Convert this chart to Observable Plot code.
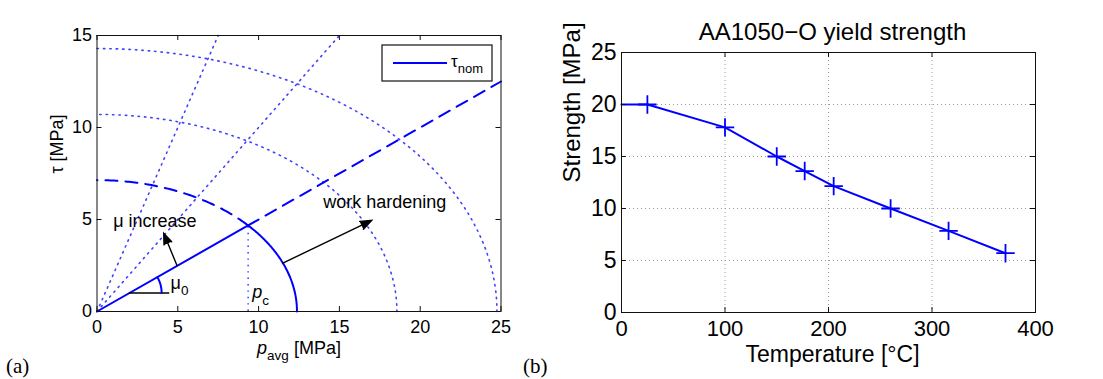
<!DOCTYPE html>
<html>
<head>
<meta charset="utf-8">
<script src="https://cdn.jsdelivr.net/npm/d3@7"></script>
<script src="https://cdn.jsdelivr.net/npm/@observablehq/plot@0.6"></script>
<style>
  body { margin: 0; background: #fff; }
  #wrap { position: relative; width: 1103px; height: 379px; overflow: hidden; background: #fff; }
  #left { position: absolute; left: 0; top: 0; }
  #right { position: absolute; left: 520px; top: 0; }
</style>
</head>
<body>
<div id="wrap"><div id="left"></div><div id="right"></div></div>
<script>
// ================= Panel (a): friction / yield model =================
const pAvgTicks = [0, 5, 10, 15, 20, 25];
const tauTicks = [0, 5, 10, 15];
// yield ellipses: intercept on the p axis and on the tau axis (initial p_c, then work-hardened)
const yieldP = [12.375, 18.56, 24.75];
const yieldTau = [7.14, 10.71, 14.29];
// friction slopes: mu0 (solid/dashed) and increased mu (dotted)
const mu0 = 0.5;
const muDotted = [1, 2];
// annotation arrows (data coordinates)
const arrowP1 = [4.95, 11.5];
const arrowTau1 = [2.5, 2.63];
const arrowP2 = [4.13, 17.0];
const arrowTau2 = [4.25, 4.95];
// annotation labels
const labelText = ["μ increase", "work hardening", "mu0", "pc"];
const labelP = [1.0, 14.0, 4.55, 9.6];
const labelTau = [4.9, 5.94, 1.55, 1.03];
// mu0 angle marker: centre on the line and horizontal end
const angleCentre = [2.0, 1.0];
const angleEndP = [4.5];
const angleRadius = [2.0, 1.75];

// ================= Panel (b): AA1050-O yield strength =================
const temperatureC = [0, 25, 100, 150, 177, 205, 260, 316, 371];
const strengthMPa = [20, 20, 17.8, 15.0, 13.6, 12.15, 10.0, 7.85, 5.7];
const markerFrom = 1; // first point (axis) drawn without marker
const tempTicks = [0, 100, 200, 300, 400];
const strengthTicks = [0, 5, 10, 15, 20, 25];

const BLUE = "#0000ff";
const FONT = '"Liberation Sans", Arial, Helvetica, sans-serif';
const SERIF = '"Liberation Serif", "Times New Roman", serif';

function arc(cx, cy, rx, ry, t0, t1, n = 90) {
  return d3.range(n + 1).map(i => {
    const t = t0 + (t1 - t0) * i / n;
    return {p: cx + rx * Math.cos(t), tau: cy + ry * Math.sin(t)};
  });
}

// derived geometry
const a0 = yieldP[0], b0 = yieldTau[0];
const thetaInt = Math.atan2(mu0 * a0, b0);
const pInt = a0 * Math.cos(thetaInt), tauInt = b0 * Math.sin(thetaInt);
const solidArc = arc(0, 0, a0, b0, 0, thetaInt);
const dashedArc = arc(0, 0, a0, b0, thetaInt, Math.PI / 2);
const dottedEllipses = yieldP.slice(1).flatMap((a, k) =>
  arc(0, 0, a, yieldTau[k + 1], 0, Math.PI / 2).map(d => ({...d, k})));
const xMax = 25, yMax = 15;
const dottedRadials = muDotted.flatMap(s => [
  {p: 0, tau: 0, s}, {p: Math.min(xMax, yMax / s), tau: Math.min(xMax, yMax / s) * s, s}
]);
const solidRadial = [{p: 0, tau: 0}, {p: pInt, tau: tauInt}];
const dashedRadial = [{p: pInt, tau: tauInt}, {p: xMax, tau: xMax * mu0}];
const angleT = Math.atan(mu0 * angleRadius[0] / angleRadius[1]);
const angleArc = arc(angleCentre[0], angleCentre[1], angleRadius[0], angleRadius[1], 0, angleT, 30);
const arrows = arrowP1.map((_, i) => ({x1: arrowP1[i], y1: arrowTau1[i], x2: arrowP2[i], y2: arrowTau2[i]}));
const labels = labelText.map((t, i) => ({t, p: labelP[i], tau: labelTau[i]}));

const LW = 520, LH = 379, LML = 96.5, LMR = 19.5, LMT = 35, LMB = 68;
const lInnerH = LH - LMT - LMB;
const dotted = {stroke: BLUE, strokeWidth: 1.6, strokeDasharray: "1.4,5", strokeOpacity: 0.75};

const leftPlot = Plot.plot({
  width: LW, height: LH,
  marginLeft: LML, marginRight: LMR, marginTop: LMT, marginBottom: LMB,
  x: {domain: [0, 25]},
  y: {domain: [0, 15]},
  style: {fontFamily: FONT, fontSize: "18px", color: "#000", background: "transparent"},
  marks: [
    Plot.line(dottedRadials, {x: "p", y: "tau", z: "s", ...dotted}),
    Plot.line(dottedEllipses, {x: "p", y: "tau", z: "k", ...dotted}),
    Plot.ruleX([pInt], {y1: 0, y2: tauInt, ...dotted}),
    Plot.line(dashedArc, {x: "p", y: "tau", stroke: BLUE, strokeWidth: 2, strokeDasharray: "12,8"}),
    Plot.line(dashedRadial, {x: "p", y: "tau", stroke: BLUE, strokeWidth: 2, strokeDasharray: "12,8"}),
    Plot.line(solidRadial, {x: "p", y: "tau", stroke: BLUE, strokeWidth: 2}),
    Plot.line(solidArc, {x: "p", y: "tau", stroke: BLUE, strokeWidth: 2}),
    Plot.ruleY([angleCentre[1]], {x1: angleCentre[0], x2: angleEndP[0], stroke: "#000", strokeWidth: 1.5}),
    Plot.line(angleArc, {x: "p", y: "tau", stroke: BLUE, strokeWidth: 2}),
    Plot.arrow(arrows, {x1: "x1", y1: "y1", x2: "x2", y2: "y2", stroke: "#000", fill: "#000",
      strokeWidth: 1.4, headLength: 13, headAngle: 42, strokeLinejoin: "miter", strokeMiterlimit: 10}),
    Plot.text(labels, {x: "p", y: "tau", text: "t", textAnchor: "start", fontSize: 18, fill: "#000"}),
    Plot.frame({stroke: "#111", strokeWidth: 1}),
    Plot.tickX(pAvgTicks, {x: d => d, insetTop: lInnerH - 5, stroke: "#111"}),
    Plot.tickX(pAvgTicks, {x: d => d, insetBottom: lInnerH - 5, stroke: "#111"}),
    Plot.tickY(tauTicks, {y: d => d, insetRight: (LW - LML - LMR) - 5, stroke: "#111"}),
    Plot.tickY(tauTicks, {y: d => d, insetLeft: (LW - LML - LMR) - 5, stroke: "#111"}),
    Plot.axisX({ticks: pAvgTicks, tickSize: 0, tickPadding: 9, label: null, fontSize: 18}),
    Plot.axisY({ticks: tauTicks, tickSize: 0, tickPadding: 5, label: null, fontSize: 18}),
    Plot.text(["p_avg [MPa]"], {frameAnchor: "bottom", dy: 42, text: d => d, fontSize: 18}),
    Plot.text(["τ [MPa]"], {frameAnchor: "left", dx: -40, rotate: -90, text: d => d, fontSize: 18})
  ]
});

const RW = 583, RH = 379, RML = 101, RMR = 68, RMT = 52, RMB = 67;
const rInnerH = RH - RMT - RMB, rInnerW = RW - RML - RMR;
const series = temperatureC.map((t, i) => ({t, s: strengthMPa[i]}));

const rightPlot = Plot.plot({
  width: RW, height: RH,
  marginLeft: RML, marginRight: RMR, marginTop: RMT, marginBottom: RMB,
  x: {domain: [0, 400]},
  y: {domain: [0, 25]},
  style: {fontFamily: FONT, fontSize: "23px", color: "#000", background: "transparent"},
  marks: [
    Plot.ruleX(tempTicks.slice(1, -1), {x: d => d, stroke: "#999", strokeWidth: 1, strokeDasharray: "1,3"}),
    Plot.ruleY(strengthTicks.slice(1, -1), {y: d => d, stroke: "#999", strokeWidth: 1, strokeDasharray: "1,3"}),
    Plot.line(series, {x: "t", y: "s", stroke: BLUE, strokeWidth: 2}),
    Plot.dot(series.slice(markerFrom), {x: "t", y: "s", symbol: "plus", r: 6, stroke: BLUE, strokeWidth: 1.8}),
    Plot.frame({stroke: "#111", strokeWidth: 1}),
    Plot.tickX(tempTicks, {x: d => d, insetTop: rInnerH - 5, stroke: "#111"}),
    Plot.tickX(tempTicks, {x: d => d, insetBottom: rInnerH - 5, stroke: "#111"}),
    Plot.tickY(strengthTicks, {y: d => d, insetRight: rInnerW - 5, stroke: "#111"}),
    Plot.tickY(strengthTicks, {y: d => d, insetLeft: rInnerW - 5, stroke: "#111"}),
    Plot.axisX({ticks: tempTicks, tickSize: 0, tickPadding: 8, label: null, fontSize: 22}),
    Plot.axisY({ticks: strengthTicks, tickSize: 0, tickPadding: 5, label: null, fontSize: 23}),
    Plot.text(["AA1050−O yield strength"], {frameAnchor: "top", dy: -30, dx: 4, text: d => d, fontSize: 24}),
    Plot.text(["Temperature [°C]"], {frameAnchor: "bottom", dy: 49, dx: 4, text: d => d, fontSize: 23}),
    Plot.text(["Strength [MPa]"], {frameAnchor: "left", dx: -49, rotate: -90, text: d => d, fontSize: 24})
  ]
});

document.getElementById("left").appendChild(leftPlot);
document.getElementById("right").appendChild(rightPlot);

// rich text (italics / subscripts) that Plot's text mark cannot express directly
const rich = {
  "p_avg [MPa]": [["p", "i"], ["avg", "sub"], [" [MPa]", ""]],
  "mu0": [["μ", ""], ["0", "sub"]],
  "pc": [["p", "i"], ["c", "sub"]]
};
function enrich(svg) {
  d3.select(svg).selectAll("text").each(function () {
    const parts = rich[this.textContent];
    if (!parts) return;
    const fs = parseFloat(getComputedStyle(this).fontSize) || 18;
    const el = d3.select(this);
    el.text(null);
    let shift = 0;
    for (const [s, kind] of parts) {
      const t = el.append("tspan").text(s);
      if (kind === "i") t.attr("font-style", "italic");
      if (kind === "sub") { t.attr("font-size", fs * 0.75).attr("dy", fs * 0.35 - shift); shift = fs * 0.35; }
      else if (shift) { t.attr("dy", -shift); shift = 0; }
    }
  });
}
enrich(leftPlot);

// MATLAB-style boxed legend for panel (a)
{
  const xr = leftPlot.scale("x").range, yr = leftPlot.scale("y").range;
  const right = xr[1] - 8.5, top = yr[1] + 10;
  const g = d3.select(leftPlot).append("g").attr("font-family", FONT).attr("text-anchor", "start");
  g.append("rect").attr("x", right - 110).attr("y", top).attr("width", 110).attr("height", 36)
    .attr("fill", "#fff").attr("stroke", "#111").attr("stroke-width", 1.2);
  g.append("line").attr("x1", right - 99).attr("x2", right - 45).attr("y1", top + 18).attr("y2", top + 18)
    .attr("stroke", BLUE).attr("stroke-width", 2);
  const t = g.append("text").attr("x", right - 41).attr("y", top + 22).attr("font-size", 17);
  t.append("tspan").text("τ");
  t.append("tspan").text("nom").attr("font-size", 13).attr("dy", 6);
}

// panel tags
d3.select(leftPlot).append("text").attr("x", 6).attr("y", 373).attr("text-anchor", "start")
  .attr("font-family", SERIF).attr("font-size", 21).text("(a)");
d3.select(rightPlot).append("text").attr("x", 3).attr("y", 373).attr("text-anchor", "start")
  .attr("font-family", SERIF).attr("font-size", 21).text("(b)");
</script>
</body>
</html>
